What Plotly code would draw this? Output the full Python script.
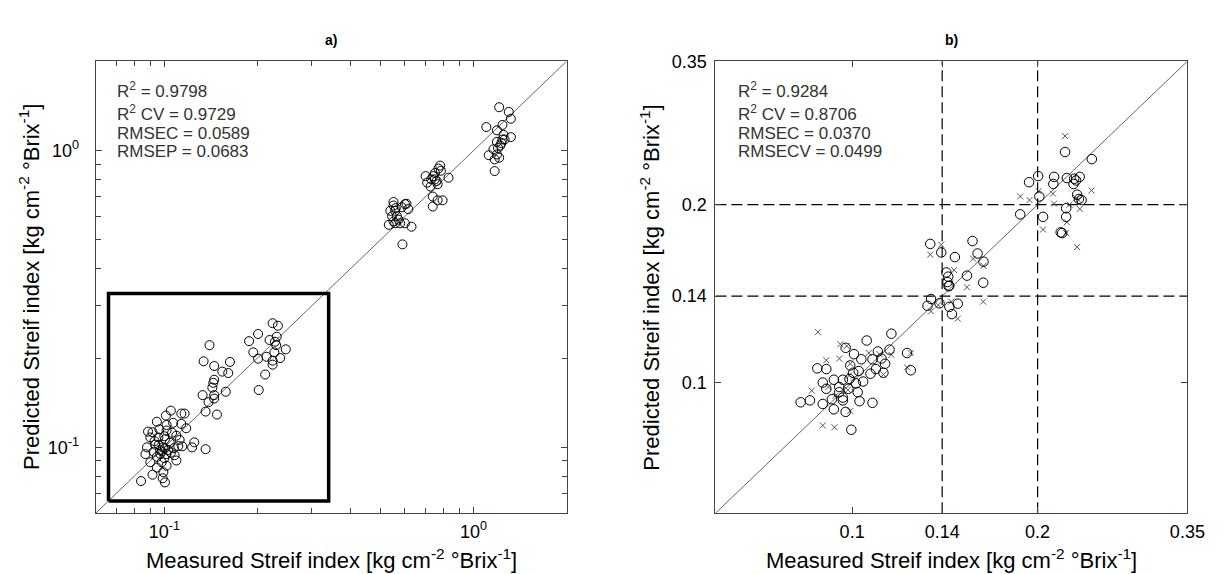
import math
import plotly.graph_objects as go

# ---------------- data ----------------
# Panel a) : measured vs predicted (log-log)
a_meas = [1.21, 1.30, 1.32, 1.24, 1.10, 1.19, 1.25, 1.32, 1.24, 1.19, 1.26, 1.16, 1.12, 1.19, 1.21, 1.17, 1.17, 1.22, 1.23, 1.20,
          0.78, 0.77, 0.75, 0.70, 0.73, 0.76, 0.83, 0.765, 0.726, 0.738, 0.765, 0.794, 0.738, 0.784, 0.708, 0.75, 0.74,
          0.551, 0.551, 0.607, 0.538, 0.558, 0.586, 0.545, 0.565, 0.615, 0.532, 0.558, 0.579, 0.600, 0.630, 0.589, 0.551, 0.572, 0.60, 0.56,
          0.224, 0.233, 0.201, 0.188, 0.219, 0.231, 0.228, 0.230, 0.247, 0.194, 0.227, 0.214, 0.201, 0.237, 0.224, 0.224, 0.212, 0.202,
          0.140, 0.134, 0.145, 0.163, 0.154, 0.161, 0.145, 0.144, 0.143, 0.133, 0.145, 0.158, 0.139, 0.145, 0.136, 0.148,
          0.105, 0.1135, 0.1163, 0.1012, 0.0946, 0.1017, 0.1068, 0.1135, 0.1177, 0.0886, 0.0916, 0.0964, 0.1017, 0.0901, 0.0957,
          0.1005, 0.1094, 0.1121, 0.125, 0.123, 0.136, 0.1143, 0.1073, 0.1005, 0.0969, 0.0869, 0.0923, 0.0946, 0.1017, 0.108,
          0.0901, 0.0981, 0.1094, 0.0946, 0.1017, 0.0916, 0.0993, 0.0841, 0.0988, 0.1005, 0.0879, 0.1042, 0.0934,
          0.098, 0.099, 0.097, 0.100, 0.103, 0.105, 0.096, 0.111, 0.106, 0.093, 0.100]
a_pred = [1.40, 1.35, 1.28, 1.22, 1.20, 1.17, 1.13, 1.11, 1.09, 1.07, 1.09, 1.01, 0.965, 0.97, 0.946, 0.934, 0.853, 1.04, 1.06, 1.02,
          0.89, 0.87, 0.84, 0.82, 0.80, 0.79, 0.81, 0.77, 0.756, 0.70, 0.68, 0.68, 0.648, 0.855, 0.78, 0.80, 0.82,
          0.671, 0.653, 0.662, 0.627, 0.627, 0.644, 0.601, 0.601, 0.635, 0.562, 0.569, 0.569, 0.569, 0.554, 0.483, 0.577, 0.585, 0.66, 0.64,
          0.262, 0.257, 0.241, 0.228, 0.230, 0.236, 0.227, 0.221, 0.214, 0.209, 0.209, 0.202, 0.199, 0.200, 0.196, 0.190, 0.176, 0.156,
          0.221, 0.195, 0.188, 0.194, 0.180, 0.178, 0.169, 0.165, 0.159, 0.150, 0.150, 0.154, 0.142, 0.146, 0.132, 0.129,
          0.133, 0.130, 0.130, 0.128, 0.122, 0.119, 0.121, 0.120, 0.116, 0.113, 0.1125, 0.115, 0.114, 0.108, 0.108,
          0.1065, 0.1095, 0.106, 0.104, 0.100, 0.0986, 0.1008, 0.0994, 0.0994, 0.0981, 0.0949, 0.0967, 0.0929, 0.0949, 0.0941,
          0.0891, 0.0891, 0.0903, 0.0855, 0.0867, 0.0809, 0.0825, 0.077, 0.0787, 0.0762, 0.100, 0.1036, 0.1022,
          0.097, 0.100, 0.095, 0.092, 0.098, 0.096, 0.102, 0.101, 0.112, 0.105, 0.109]

# Panel b) : calibration (circles) and cross-validation (crosses)
b_cal_meas = [0.2216, 0.2449, 0.2004, 0.2127, 0.1937, 0.2121, 0.2231, 0.2293, 0.2341, 0.2287, 0.2309, 0.2013, 0.2318, 0.2357, 0.2334,
              0.1874, 0.2041, 0.2225, 0.2225, 0.2180, 0.2192,
              0.1339, 0.1395, 0.1568, 0.1468, 0.1598, 0.1634, 0.1422, 0.1432, 0.1428, 0.1438, 0.1536, 0.1632, 0.1343, 0.1325,
              0.1386, 0.1438, 0.1484, 0.1452, 0.1434,
              0.1158, 0.1056, 0.115, 0.0976, 0.1101, 0.1228, 0.1245, 0.1007, 0.1035, 0.1079, 0.1116, 0.1131, 0.1093, 0.0993,
              0.1025, 0.1071, 0.1124, 0.0878, 0.0908, 0.0896, 0.0934, 0.0966, 0.099, 0.1014, 0.0953, 0.0986, 0.1021, 0.0908,
              0.0953, 0.0825, 0.0854, 0.0896, 0.0927, 0.0966, 0.1028, 0.1079, 0.0934, 0.0976, 0.0997, 0.0966, 0.1004, 0.1042]
b_cal_pred = [0.2456, 0.2389, 0.2236, 0.2229, 0.2183, 0.2168, 0.2219, 0.2213, 0.2229, 0.2168, 0.2198, 0.2065, 0.2079, 0.2036, 0.2045,
              0.1926, 0.1907, 0.1972, 0.1907, 0.1795, 0.1790,
              0.1716, 0.1660, 0.1735, 0.1630, 0.1653, 0.1601, 0.1535, 0.1510, 0.1479, 0.1458, 0.1516, 0.1475, 0.1384, 0.1348,
              0.1361, 0.1342, 0.1359, 0.1305, 0.1455,
              0.1209, 0.1177, 0.1136, 0.1144, 0.1128, 0.1121, 0.1048, 0.1116, 0.1094, 0.1094, 0.1097, 0.1075, 0.1053, 0.1068,
              0.1045, 0.1034, 0.1038, 0.1056, 0.1053, 0.0999, 0.1010, 0.1010, 0.1013, 0.0996, 0.0982, 0.0975, 0.0962, 0.0975,
              0.0962, 0.0925, 0.0932, 0.0919, 0.0936, 0.0932, 0.0929, 0.0923, 0.0900, 0.0891, 0.0831, 0.0942, 0.1038, 0.1003]
b_cv_meas = [0.2216, 0.2446, 0.1874, 0.1940, 0.2007, 0.2118, 0.2127, 0.2253, 0.2341, 0.2231, 0.2225, 0.2041, 0.2318, 0.2331, 0.2309,
             0.1395, 0.1339, 0.1464, 0.1572, 0.1634, 0.1536, 0.1632, 0.1343, 0.1380, 0.1484, 0.1448,
             0.0880, 0.0957, 0.0980, 0.0908, 0.0953, 0.0993, 0.1064, 0.1108, 0.1158, 0.1245, 0.1228, 0.1124, 0.0989, 0.0915,
             0.0860, 0.0940, 0.0984, 0.0993, 0.0896, 0.0936]
b_cv_pred = [0.2614, 0.2114, 0.2065, 0.2036, 0.2108, 0.2088, 0.2008, 0.2000, 0.1967, 0.1868, 0.1790, 0.1815, 0.1695, 0.2036, 0.2051,
             0.1711, 0.1646, 0.1549, 0.1620, 0.1575, 0.1449, 0.1370, 0.1319, 0.1352, 0.1282, 0.1370,
             0.1216, 0.1160, 0.1152, 0.1090, 0.1097, 0.1075, 0.1121, 0.1116, 0.1113, 0.1121, 0.1060, 0.1031, 0.1027, 0.0982,
             0.0968, 0.0949, 0.0971, 0.0894, 0.0845, 0.0839]

a_range = [0.06, 2.0]
b_range = [0.06, 0.35]
a_tickvals = [0.1, 1.0]
a_ticktext = ["10<sup>-1</sup>", "10<sup>0</sup>"]
a_minor_vals = [0.07, 0.08, 0.09, 0.2, 0.3, 0.4, 0.5, 0.6, 0.7, 0.8, 0.9, 2.0]
b_tickvals = [0.1, 0.14, 0.2, 0.35]
b_ticktext = ["0.1", "0.14", "0.2", "0.35"]
b_ref_lines = [0.14, 0.2]
zoom_box_x = [0.066, 0.34]
zoom_box_y = [0.066, 0.33]

stats_a = ["R<sup>2</sup> = 0.9798", "R<sup>2</sup> CV = 0.9729", "RMSEC = 0.0589", "RMSEP = 0.0683"]
stats_b = ["R<sup>2</sup> = 0.9284", "R<sup>2</sup> CV = 0.8706", "RMSEC = 0.0370", "RMSECV = 0.0499"]
x_title = "Measured Streif index [kg cm<sup>-2</sup> °Brix<sup>-1</sup>]"
y_title = "Predicted Streif index [kg cm<sup>-2</sup> °Brix<sup>-1</sup>]"

# ---------------- layout geometry (pixels) ----------------
W, H = 1223, 574
FONT = "Liberation Sans, Arial, sans-serif"
A_L, A_R = 89, 567
B_L, B_R = 718, 1197
P_T, P_B = 44, 504


def px(x):
    return x / W


def py(y):
    return 1 - y / H


fig = go.Figure()

# panel a
fig.add_trace(go.Scatter(x=a_range, y=a_range, mode="lines", line=dict(color="#666", width=1),
                         xaxis="x", yaxis="y", hoverinfo="skip"))
fig.add_trace(go.Scatter(x=a_meas, y=a_pred, mode="markers",
                         marker=dict(symbol="circle-open", size=9, color="black", line=dict(width=1)),
                         xaxis="x", yaxis="y"))
fig.add_trace(go.Scatter(x=[zoom_box_x[0], zoom_box_x[1], zoom_box_x[1], zoom_box_x[0], zoom_box_x[0]],
                         y=[zoom_box_y[0], zoom_box_y[0], zoom_box_y[1], zoom_box_y[1], zoom_box_y[0]],
                         mode="lines", line=dict(color="black", width=3.5), xaxis="x", yaxis="y"))

# panel b
fig.add_trace(go.Scatter(x=b_range, y=b_range, mode="lines", line=dict(color="#666", width=1),
                         xaxis="x2", yaxis="y2"))
for v in b_ref_lines:
    fig.add_trace(go.Scatter(x=[v, v], y=b_range, mode="lines",
                             line=dict(color="black", width=1.2, dash="11px,5px"), xaxis="x2", yaxis="y2"))
    fig.add_trace(go.Scatter(x=b_range, y=[v, v], mode="lines",
                             line=dict(color="black", width=1.2, dash="11px,5px"), xaxis="x2", yaxis="y2"))
fig.add_trace(go.Scatter(x=b_cv_meas, y=b_cv_pred, mode="markers",
                         marker=dict(symbol="x-thin-open", size=6, color="#555", line=dict(width=1, color="#555")),
                         xaxis="x2", yaxis="y2"))
fig.add_trace(go.Scatter(x=b_cal_meas, y=b_cal_pred, mode="markers",
                         marker=dict(symbol="circle-open", size=9.5, color="black", line=dict(width=1)),
                         xaxis="x2", yaxis="y2"))

axis_common = dict(type="log", ticks="inside", ticklen=6, tickcolor="#444", mirror="ticks",
                   showline=True, linecolor="#444", linewidth=1, showgrid=False, zeroline=False,
                   tickfont=dict(family=FONT, size=18, color="black"))
minor_a = dict(tickmode="array", tickvals=a_minor_vals, ticks="inside", ticklen=5, tickcolor="#444", showgrid=False)

fig.update_layout(
    width=W, height=H,
    margin=dict(l=0, r=0, t=0, b=0),
    paper_bgcolor="white", plot_bgcolor="white",
    showlegend=False,
    xaxis=dict(axis_common, domain=[px(A_L), px(A_R)], range=[math.log10(a_range[0]), math.log10(a_range[1])],
               tickmode="array", tickvals=a_tickvals, ticktext=a_ticktext, minor=minor_a, anchor="y",
               ticklabelstandoff=2),
    yaxis=dict(axis_common, domain=[py(P_B), py(P_T)], range=[math.log10(a_range[0]), math.log10(a_range[1])],
               tickmode="array", tickvals=a_tickvals, ticktext=a_ticktext, minor=minor_a, anchor="x",
               ticklabelstandoff=12),
    xaxis2=dict(axis_common, domain=[px(B_L), px(B_R)], range=[math.log10(b_range[0]), math.log10(b_range[1])],
                tickmode="array", tickvals=b_tickvals, ticktext=b_ticktext, anchor="y2", ticklabelstandoff=2),
    yaxis2=dict(axis_common, domain=[py(P_B), py(P_T)], range=[math.log10(b_range[0]), math.log10(b_range[1])],
                tickmode="array", tickvals=b_tickvals, ticktext=b_ticktext, anchor="x2", ticklabelstandoff=4),
)

ann = []
# panel titles
for label, (l, r) in [("<b>a)</b>", (A_L, A_R)), ("<b>b)</b>", (B_L, B_R))]:
    ann.append(dict(text=label, x=px((l + r) / 2), y=py(22), xref="paper", yref="paper",
                    xanchor="center", yanchor="middle", showarrow=False,
                    font=dict(family=FONT, size=14, color="black")))
# axis titles
for (l, r, yt_x) in [(A_L, A_R, 22), (B_L, B_R, 652)]:
    ann.append(dict(text=x_title, x=px((l + r) / 2), y=py(567), xref="paper", yref="paper",
                    xanchor="center", yanchor="bottom", showarrow=False,
                    font=dict(family=FONT, size=22, color="black")))
    ann.append(dict(text=y_title, x=px(yt_x), y=py((P_T + P_B) / 2), xref="paper", yref="paper",
                    xanchor="center", yanchor="middle", textangle=-90, showarrow=False,
                    font=dict(family=FONT, size=22, color="black")))
# stats text (bottom-anchored so that superscripts do not shift the baselines)
line_bottom = [87, 110, 129, 148]
for lines, x0 in [(stats_a, 109), (stats_b, 739)]:
    for t, yy in zip(lines, line_bottom):
        ann.append(dict(text=t, x=px(x0), y=py(yy), xref="paper", yref="paper", xanchor="left",
                        yanchor="bottom", showarrow=False, font=dict(family=FONT, size=17, color="#333")))
fig.update_layout(annotations=ann)

fig.write_html("out.html")
